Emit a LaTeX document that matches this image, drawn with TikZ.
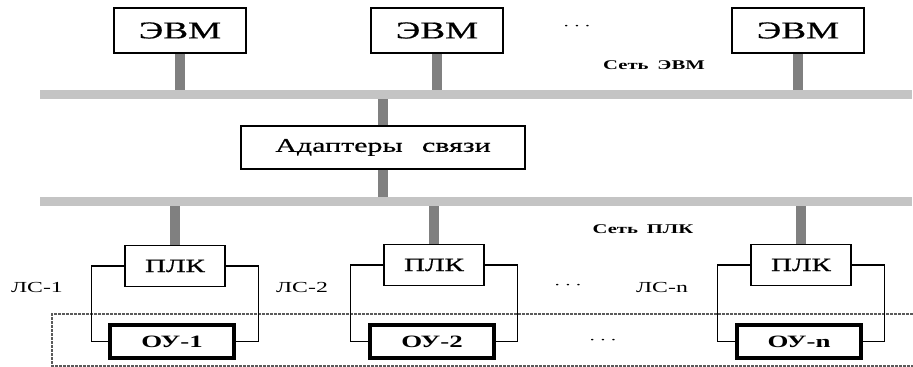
\documentclass[tikz,border=0pt]{standalone}
\usepackage{fontspec}
\setmainfont[FakeStretch=1.55]{Liberation Serif}
\newfontfamily\boxfont[FakeStretch=1.55,FakeBold=0.6]{Liberation Serif}
\usetikzlibrary{positioning}
\definecolor{busgray}{RGB}{196,196,196}
\definecolor{stemgray}{RGB}{128,128,128}
\definecolor{dashgray}{RGB}{90,90,90}

\begin{document}
\begin{tikzpicture}[
    x=0.75pt, y=-0.75pt,
    box/.style={draw, line width=1.4pt, fill=white, inner sep=0pt},
    evm/.style={box, minimum width=99pt, minimum height=33.75pt, font=\boxfont\fontsize{18}{20}\selectfont},
    plk/.style={box, minimum width=75pt, minimum height=30.75pt, font=\boxfont\fontsize{14}{16}\selectfont},
    ou/.style={box, line width=3pt, minimum width=93pt, minimum height=24.75pt, font=\fontsize{13}{15}\selectfont\bfseries},
    bus/.style={fill=busgray, minimum width=654pt, minimum height=6.75pt, inner sep=0pt},
    stem/.style={stemgray, line width=7.5pt},
    lnk/.style={line width=0.8pt},
    lbl/.style={font=\fontsize{11.5}{13}\selectfont},
    netlbl/.style={font=\fontsize{10}{11}\selectfont\bfseries},
]
    \useasboundingbox (0,0) rectangle (913,367);

    % networks
    \node[bus] (net1) at (476,94.5) {};
    \node[bus] (net2) at (476,201.5) {};

    % computers
    \node[evm] (evm1) at (180,30.5) {ЭВМ};
    \node[evm] (evm2) at (437,30.5) {ЭВМ};
    \node[evm] (evm3) at (798,30.5) {ЭВМ};
    \node (dots1) at (577,28) {·\;·\;·};
    \node[netlbl] (net1lbl) at (654,65) {Сеть\;\ ЭВМ};

    \foreach \n in {evm1,evm2,evm3}
        \draw[stem] (\n.south) -- (\n.south |- net1.north);

    % adapters
    \node[box, minimum width=213pt, minimum height=32.25pt, font=\boxfont\fontsize{14.5}{16}\selectfont] (adp) at (383,147.5) {Адаптеры\quad связи};
    \draw[stem] (adp.north) -- (adp.north |- net1.south);
    \draw[stem] (adp.south) -- (adp.south |- net2.north);

    % controllers and objects
    \node[netlbl] (net2lbl) at (643,229) {Сеть\;\ ПЛК};
    \draw[dashgray, line width=0.8pt, dash pattern=on 2pt off 1pt]
        (913,314) -- (52,314) -- (52,366) -- (913,366);

    \node[plk] (plk1) at (175,266) {ПЛК};
    \node[plk] (plk2) at (434,265) {ПЛК};
    \node[plk] (plk3) at (801,265) {ПЛК};
    \node[ou] (ou1) at (172,341.5) {ОУ-1};
    \node[ou] (ou2) at (432,341.5) {ОУ-2};
    \node[ou] (ou3) at (799,341.5) {ОУ-n};

    \foreach \i in {1,2,3} {
        \draw[stem] (plk\i.north) -- (plk\i.north |- net2.south);
        \draw[lnk] (plk\i.west) -- ++(-33,0) |- (ou\i.west);
        \draw[lnk] (plk\i.east) -- ++(33,0) |- (ou\i.east);
    }

    \node[lbl] (ls1) at (37,287) {ЛС-1};
    \node[lbl] (ls2) at (302,287) {ЛС-2};
    \node[lbl] (lsn) at (662,287) {ЛС-n};
    \node (dots2) at (568,287) {·\;·\;·};
    \node (dots3) at (603,342) {·\;·\;·};
\end{tikzpicture}
\end{document}
